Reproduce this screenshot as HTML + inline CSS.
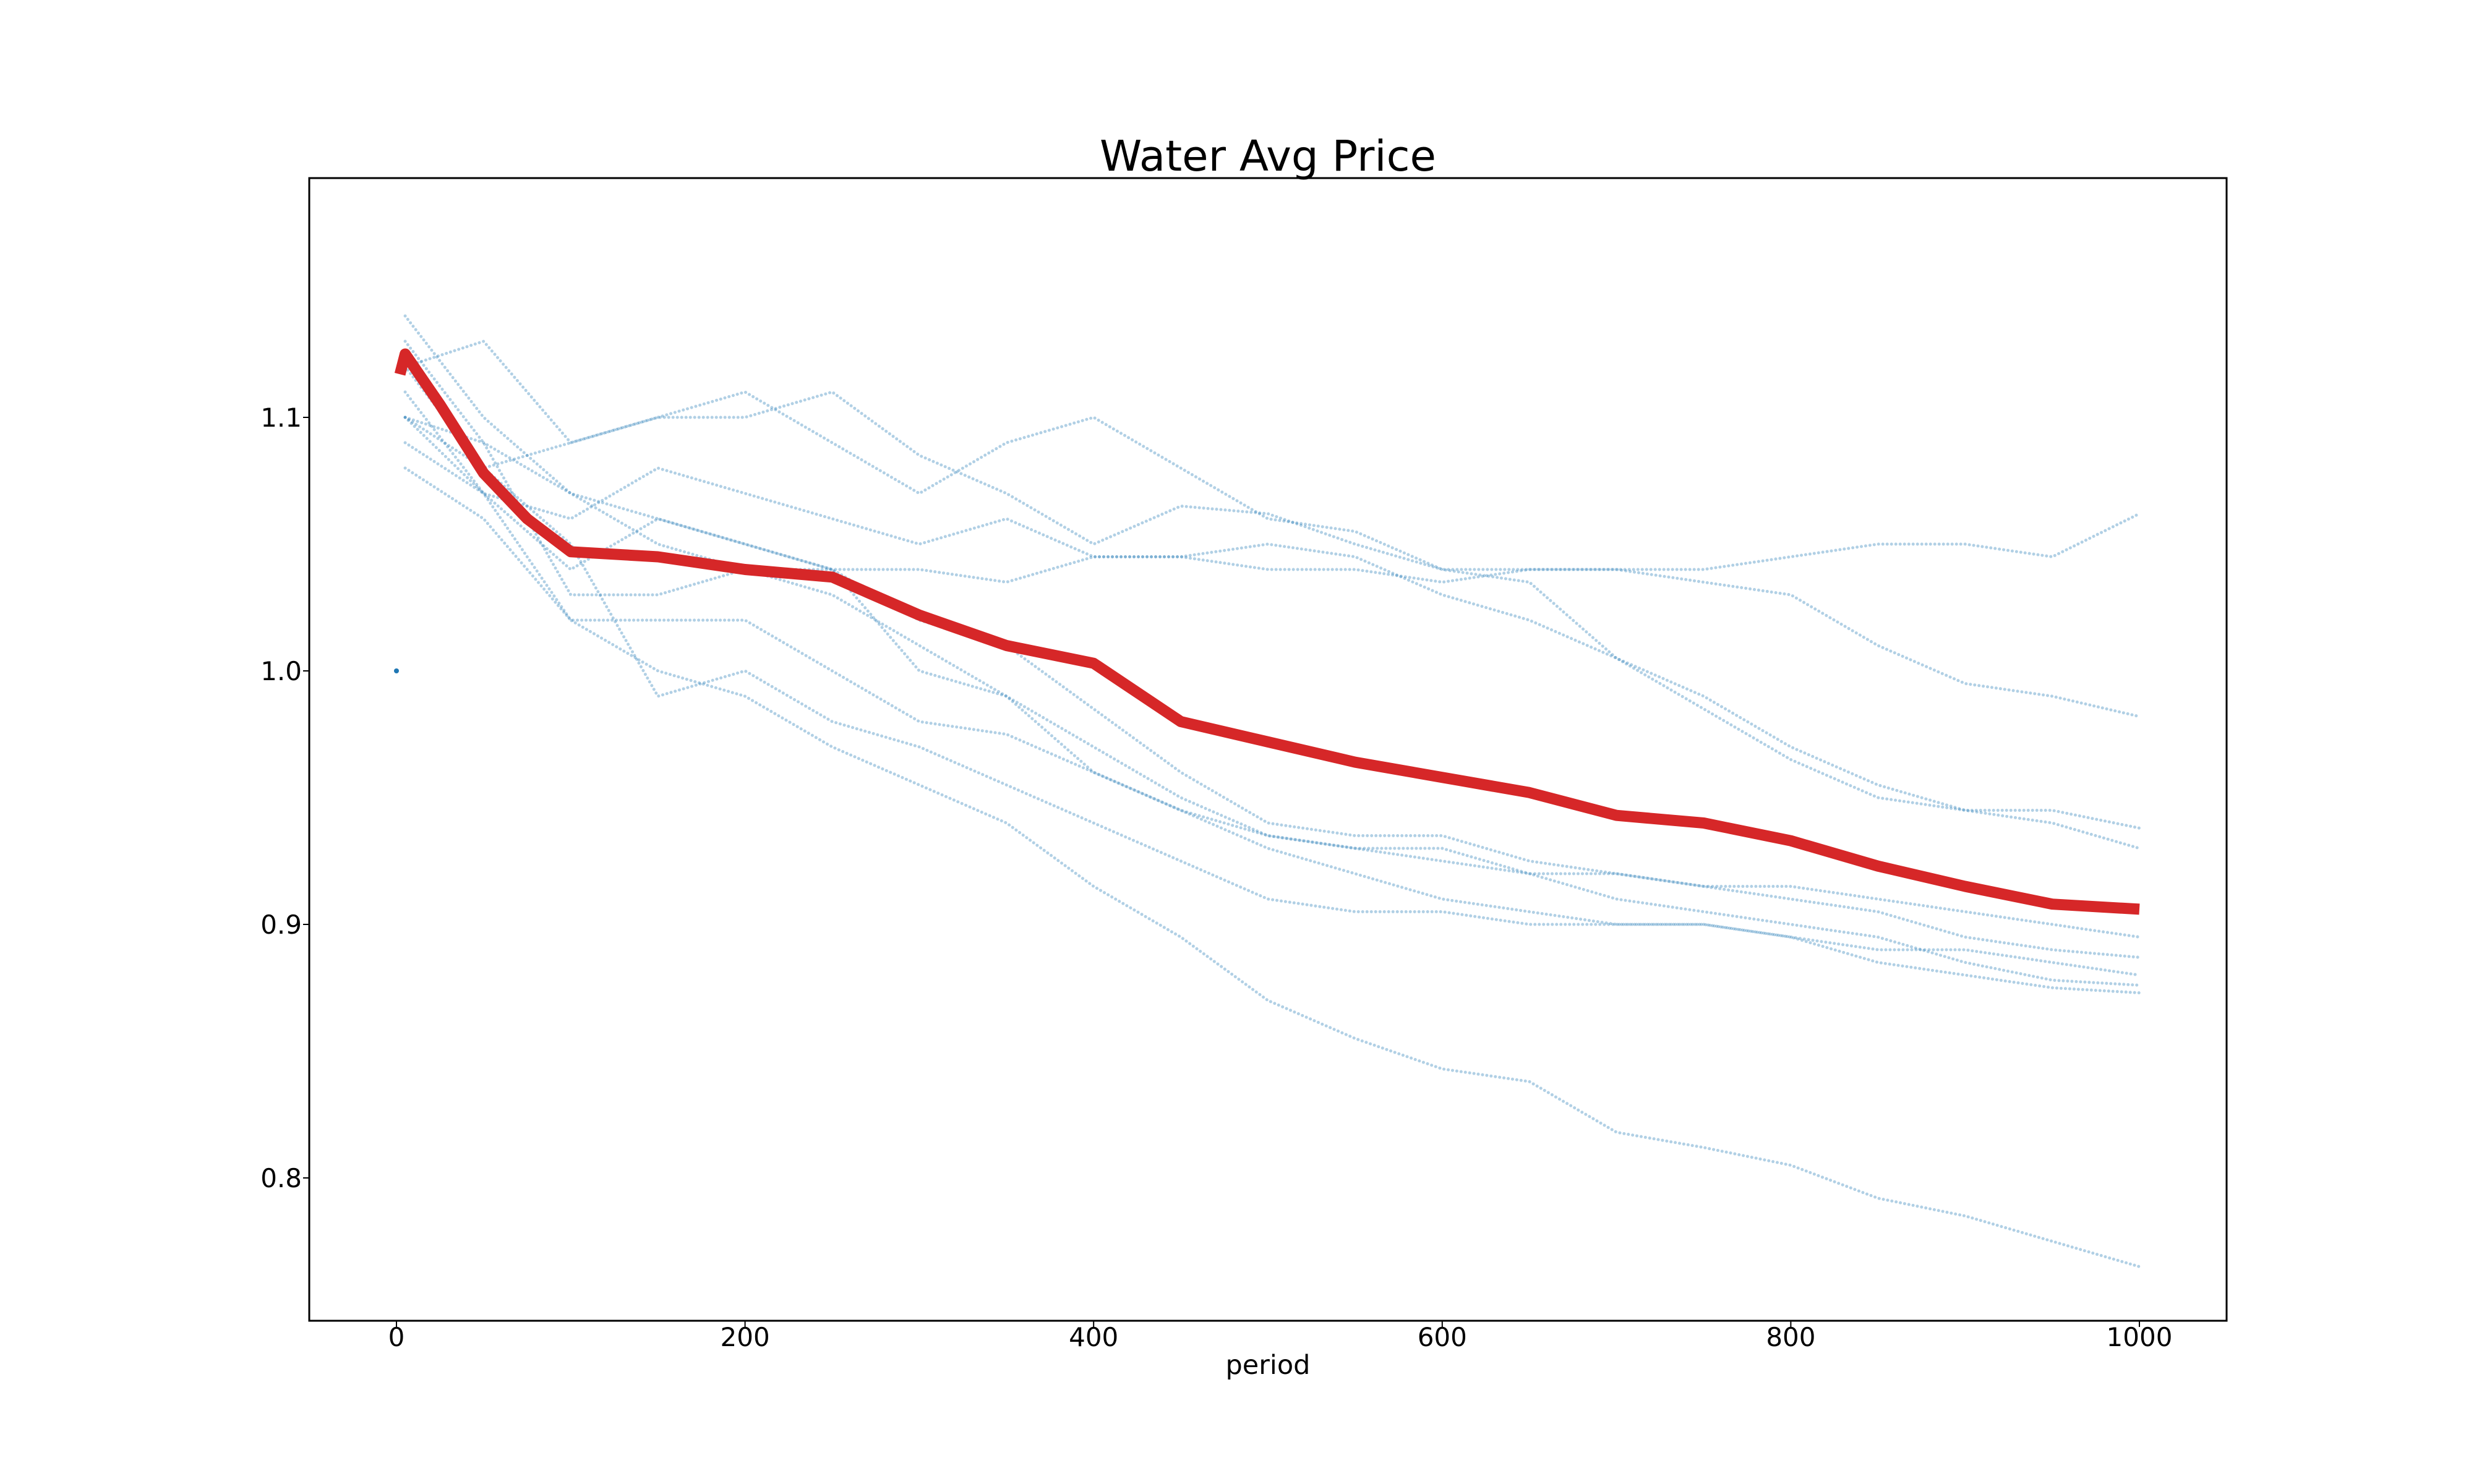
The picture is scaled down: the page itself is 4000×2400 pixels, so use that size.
<!DOCTYPE html>
<html><head><meta charset="utf-8"><style>
html,body{margin:0;padding:0;background:#fff;}
svg{display:block;font-family:"DejaVu Sans","Liberation Sans",sans-serif;}
</style></head><body>
<svg id="chart" width="4000" height="2400" viewBox="0 0 4000 2400" xmlns="http://www.w3.org/2000/svg">
<rect width="4000" height="2400" fill="#fff"/>
<text x="2050" y="276" font-size="69" text-anchor="middle" fill="#000">Water Avg Price</text>
<g id="plot"></g>
<rect x="500" y="288" width="3100" height="1848" fill="none" stroke="#000" stroke-width="3"/>
<g id="axes"></g>
<text x="2050" y="2222" font-size="43" text-anchor="middle" fill="#000">period</text>
</svg>
<script>
const periods = [5,50,100,150,200,250,300,350,400,450,500,550,600,650,700,750,800,850,900,950,1000];
const seriesA = [1.10,1.09,1.07,1.06,1.05,1.04,1.04,1.035,1.045,1.045,1.04,1.04,1.035,1.04,1.04,1.04,1.045,1.05,1.05,1.045,1.062];
const seriesB = [1.12,1.13,1.09,1.10,1.11,1.09,1.07,1.09,1.10,1.08,1.06,1.055,1.04,1.04,1.04,1.035,1.03,1.01,0.995,0.99,0.982];
const seriesC = [1.10,1.08,1.09,1.10,1.10,1.11,1.085,1.07,1.05,1.065,1.062,1.05,1.04,1.035,1.005,0.99,0.97,0.955,0.945,0.945,0.938];
const seriesD = [1.11,1.07,1.06,1.08,1.07,1.06,1.05,1.06,1.045,1.045,1.05,1.045,1.03,1.02,1.005,0.985,0.965,0.95,0.945,0.94,0.93];
const seriesE = [1.09,1.07,1.04,1.06,1.05,1.04,1.02,1.01,0.985,0.96,0.94,0.935,0.935,0.925,0.92,0.915,0.915,0.91,0.905,0.90,0.895];
const seriesF = [1.13,1.09,1.03,1.03,1.04,1.04,1.00,0.99,0.97,0.95,0.935,0.93,0.925,0.92,0.92,0.915,0.91,0.905,0.895,0.89,0.887];
const seriesG = [1.14,1.10,1.07,1.05,1.04,1.03,1.01,0.99,0.96,0.945,0.93,0.92,0.91,0.905,0.90,0.90,0.895,0.89,0.89,0.885,0.88];
const seriesH = [1.08,1.06,1.02,1.02,1.02,1.00,0.98,0.975,0.96,0.945,0.935,0.93,0.93,0.92,0.91,0.905,0.90,0.895,0.885,0.878,0.876];
const seriesI = [1.12,1.08,1.05,0.99,1.00,0.98,0.97,0.955,0.94,0.925,0.91,0.905,0.905,0.90,0.90,0.90,0.895,0.885,0.88,0.875,0.873];
const seriesJ = [1.10,1.07,1.02,1.00,0.99,0.97,0.955,0.94,0.915,0.895,0.87,0.855,0.843,0.838,0.818,0.812,0.805,0.792,0.785,0.775,0.765];
const allSeries = [seriesA,seriesB,seriesC,seriesD,seriesE,seriesF,seriesG,seriesH,seriesI,seriesJ];
const startPeriod = 0;
const startValue = 1.0;
const meanPeriods = [2,5,25,50,75,100,150,200,250,300,350,400,450,500,550,600,650,700,750,800,850,900,950,1000];
const meanValues = [1.117,1.125,1.105,1.078,1.06,1.047,1.045,1.04,1.037,1.022,1.01,1.003,0.98,0.972,0.964,0.958,0.952,0.943,0.94,0.933,0.923,0.915,0.908,0.906];
const xTicks = [0,200,400,600,800,1000];
const yTicks = [0.8,0.9,1.0,1.1];
const yTickLabels = ["0.8","0.9","1.0","1.1"];

const NS = "http://www.w3.org/2000/svg";
const X = p => 641 + (p * 2.818);
const Y = v => 1085 - (v - 1.0) * 4100;
const plot = document.getElementById('plot');
const axes = document.getElementById('axes');

allSeries.forEach((s, i) => {
  const pl = document.createElementNS(NS, 'polyline');
  pl.setAttribute('points', s.map((v, j) => X(periods[j]) + ',' + Y(v)).join(' '));
  pl.setAttribute('fill', 'none');
  pl.setAttribute('stroke', 'rgba(31,119,180,0.35)');
  pl.setAttribute('stroke-width', '5');
  pl.setAttribute('stroke-linecap', 'round');
  pl.setAttribute('stroke-dasharray', '0 7');
  
  
  plot.appendChild(pl);
});

const c0 = document.createElementNS(NS, 'circle');
c0.setAttribute('cx', X(startPeriod));
c0.setAttribute('cy', Y(startValue));
c0.setAttribute('r', '4');
c0.setAttribute('fill', '#1f77b4');


plot.appendChild(c0);

const mean = document.createElementNS(NS, 'polyline');
mean.setAttribute('points', meanValues.map((v, j) => X(meanPeriods[j]) + ',' + Y(v)).join(' '));
mean.setAttribute('fill', 'none');
mean.setAttribute('stroke', '#d62728');
mean.setAttribute('stroke-width', '18');
mean.setAttribute('stroke-linejoin', 'round');


plot.appendChild(mean);

xTicks.forEach(t => {
  const ln = document.createElementNS(NS, 'line');
  ln.setAttribute('x1', X(t)); ln.setAttribute('x2', X(t));
  ln.setAttribute('y1', 2136); ln.setAttribute('y2', 2146);
  ln.setAttribute('stroke', '#000'); ln.setAttribute('stroke-width', '2');
  
  
  axes.appendChild(ln);
  const tx = document.createElementNS(NS, 'text');
  tx.setAttribute('x', X(t)); tx.setAttribute('y', 2177);
  tx.setAttribute('font-size', '42'); tx.setAttribute('text-anchor', 'middle');
  tx.textContent = String(t);
  
  
  axes.appendChild(tx);
});
yTicks.forEach((t, i) => {
  const ln = document.createElementNS(NS, 'line');
  ln.setAttribute('x1', 490); ln.setAttribute('x2', 500);
  ln.setAttribute('y1', Y(t)); ln.setAttribute('y2', Y(t));
  ln.setAttribute('stroke', '#000'); ln.setAttribute('stroke-width', '2');
  
  
  axes.appendChild(ln);
  const tx = document.createElementNS(NS, 'text');
  tx.setAttribute('x', 488); tx.setAttribute('y', Y(t) + 15);
  tx.setAttribute('font-size', '42'); tx.setAttribute('text-anchor', 'end');
  tx.textContent = yTickLabels[i];
  
  
  axes.appendChild(tx);
});
</script>
</body></html>
